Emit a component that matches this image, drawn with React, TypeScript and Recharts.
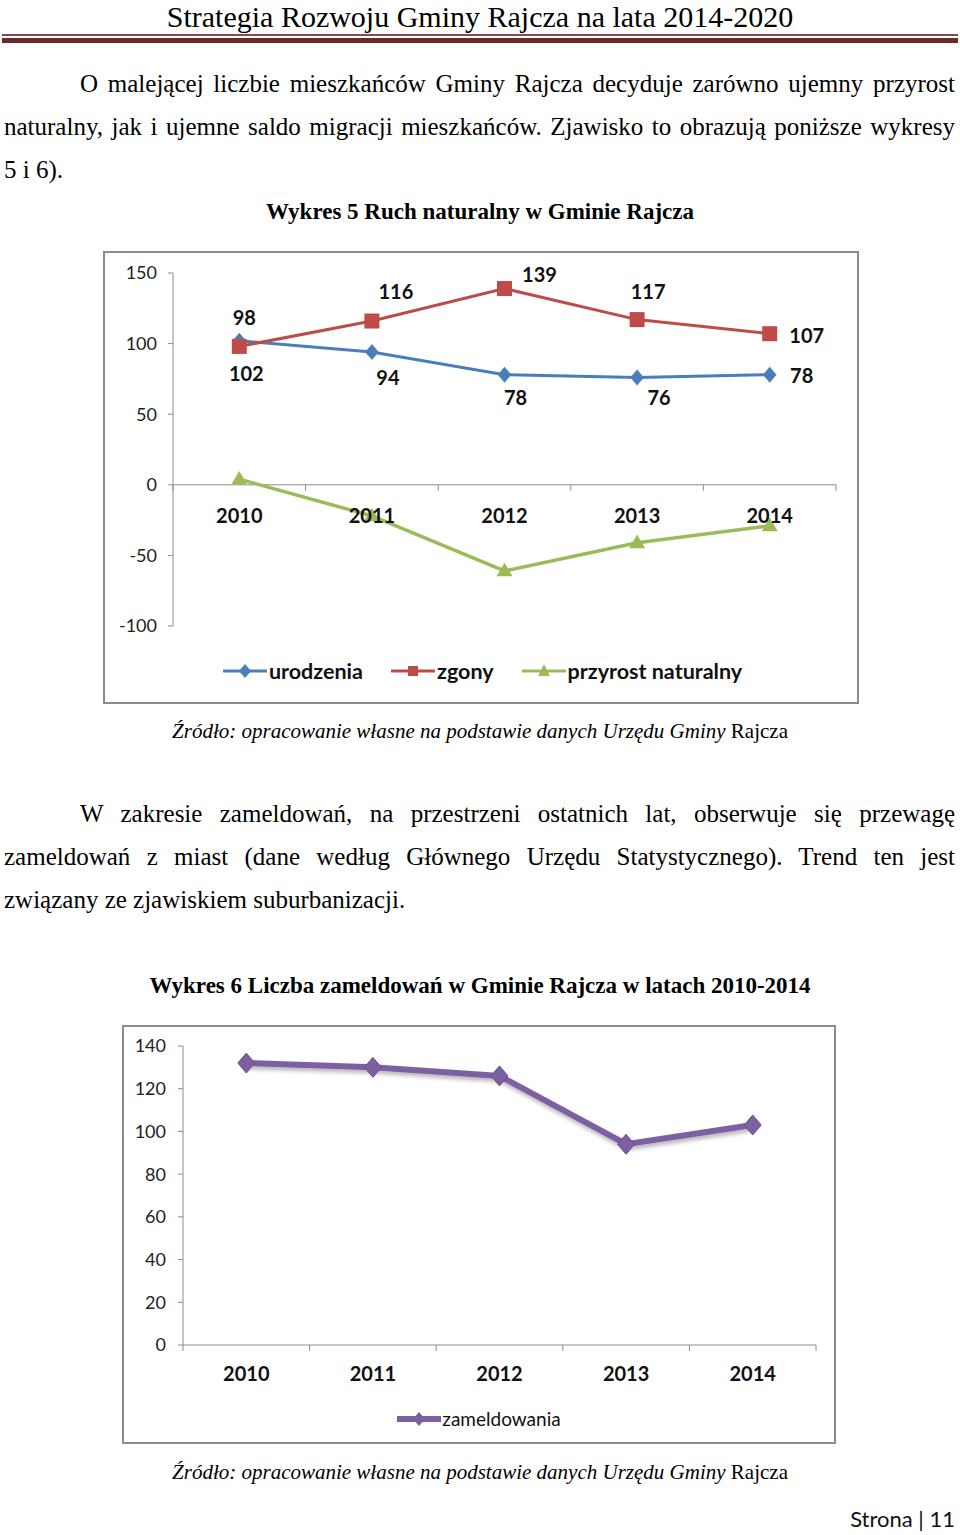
import React from "react";
import { LineChart, Line, XAxis, YAxis, ReferenceLine, LabelList } from "recharts";

const YEARS = ["2010", "2011", "2012", "2013", "2014"];
const URODZENIA = [102, 94, 78, 76, 78];
const ZGONY = [98, 116, 139, 117, 107];
const PRZYROST = [4, -22, -61, -41, -29];
const ZAMELDOWANIA = [132, 130, 126, 94, 103];
const RUCH_TICKS = [-100, -50, 0, 50, 100, 150];
const ZAMELD_TICKS = [0, 20, 40, 60, 80, 100, 120, 140];

const ruchData = YEARS.map((rok, i) => ({
  rok,
  urodzenia: URODZENIA[i],
  zgony: ZGONY[i],
  przyrost: PRZYROST[i],
}));
const zameldData = YEARS.map((rok, i) => ({ rok, zameldowania: ZAMELDOWANIA[i] }));

// label placement (Excel had them nudged by hand)
const ZGONY_LABEL_POS = [
  [5, -29], [24, -30], [35, -15], [11, -29], [37, 1],
];
const URODZENIA_LABEL_POS = [
  [7, 32], [16, 25], [11, 22], [22, 20], [32, 0],
];

const BLUE = "#4a7ebb";
const RED = "#be4b48";
const GREEN = "#9bbb59";
const PURPLE = "#7d60a2";
const AXIS = "#8c8c8c";
const SANS = "Lato, 'Open Sans', sans-serif";
const SERIF = "'Liberation Serif', 'Times New Roman', serif";

// chart 1 geometry
const R_W = 756;
const R_H = 453;
const R_TOP = 22;
const R_LEFT = 70;
const R_RIGHT = 23;
const R_PLOT_H = 353;
const R_PLOT_W = R_W - R_LEFT - R_RIGHT;
const R_BAND = R_PLOT_W / YEARS.length;
const R_ZERO_Y = R_TOP + (R_PLOT_H * 150) / 250;

// chart 2 geometry
const Z_W = 714;
const Z_H = 419;
const Z_TOP = 21;
const Z_LEFT = 61;
const Z_RIGHT = 20;
const Z_PLOT_H = 299;
const Z_PLOT_W = Z_W - Z_LEFT - Z_RIGHT;
const Z_BAND = Z_PLOT_W / YEARS.length;
const Z_BOTTOM_Y = Z_TOP + Z_PLOT_H;

const diamondDot = (color: string, r: number, stroke?: string) => (props: any) => {
  const { cx, cy, index } = props;
  if (cx == null || cy == null) return <g key={index} />;
  return (
    <path
      key={index}
      d={`M${cx},${cy - r}L${cx + r * 0.85},${cy}L${cx},${cy + r}L${cx - r * 0.85},${cy}Z`}
      fill={color}
      stroke={stroke || "none"}
      strokeWidth={1}
    />
  );
};

const squareDot = (color: string, s: number) => (props: any) => {
  const { cx, cy, index } = props;
  if (cx == null || cy == null) return <g key={index} />;
  return <rect key={index} x={cx - s / 2} y={cy - s / 2} width={s} height={s} fill={color} />;
};

const triangleDot = (color: string, s: number) => (props: any) => {
  const { cx, cy, index } = props;
  if (cx == null || cy == null) return <g key={index} />;
  const h = s * 0.85;
  return (
    <path
      key={index}
      d={`M${cx},${cy - h * 0.6}L${cx + s / 2},${cy + h * 0.4}L${cx - s / 2},${cy + h * 0.4}Z`}
      fill={color}
    />
  );
};

const makeLabel = (pos: number[][]) => (props: any) => {
  const { x, y, value, index } = props;
  const [dx, dy] = pos[index] || [0, 0];
  return (
    <text
      x={x + dx}
      y={y + dy}
      textAnchor="middle"
      dominantBaseline="central"
      fontFamily={SANS}
      fontWeight={700}
      fontSize={20}
      fill="#111"
    >
      {value}
    </text>
  );
};

// category ticks: Excel puts tick marks between categories
const makeXTick = (axisY: number, labelY: number, band: number, count: number) => (props: any) => {
  const { x, payload, index } = props;
  return (
    <g>
      <line x1={x - band / 2} x2={x - band / 2} y1={axisY} y2={axisY + 6} stroke={AXIS} />
      {index === count - 1 && (
        <line x1={x + band / 2} x2={x + band / 2} y1={axisY} y2={axisY + 6} stroke={AXIS} />
      )}
      <text
        x={x}
        y={labelY}
        textAnchor="middle"
        dominantBaseline="central"
        fontFamily={SANS}
        fontWeight={700}
        fontSize={20}
        fill="#111"
      >
        {payload.value}
      </text>
    </g>
  );
};

function LegendMarker({ color, kind, thick }: { color: string; kind: string; thick?: boolean }) {
  return (
    <svg width={44} height={20} style={{ display: "block" }}>
      <line x1={1} x2={43} y1={10} y2={10} stroke={color} strokeWidth={thick ? 6 : 3} strokeLinecap="round" />
      {kind === "diamond" && <path d="M22,3L28,10L22,17L16,10Z" fill={color} />}
      {kind === "square" && <rect x={17} y={5} width={10} height={10} fill={color} />}
      {kind === "triangle" && <path d="M22,3L28,15L16,15Z" fill={color} />}
    </svg>
  );
}

function RuchChart() {
  return (
    <div
      style={{
        position: "absolute",
        left: 103,
        top: 251,
        width: R_W,
        height: R_H,
        border: `2px solid ${AXIS}`,
        boxSizing: "border-box",
      }}
    >
      <div style={{ position: "absolute", left: -2, top: -2 }}>
        <LineChart
          width={R_W}
          height={R_H}
          data={ruchData}
          margin={{ top: R_TOP, right: R_RIGHT, bottom: R_H - R_TOP - R_PLOT_H - 1, left: 0 }}
        >
          <XAxis
            dataKey="rok"
            height={1}
            axisLine={false}
            tickLine={false}
            interval={0}
            padding={{ left: R_BAND / 2, right: R_BAND / 2 }}
            tick={makeXTick(R_ZERO_Y, R_ZERO_Y + 30, R_BAND, YEARS.length)}
          />
          <YAxis
            width={R_LEFT}
            domain={[-100, 150]}
            ticks={RUCH_TICKS}
            interval={0}
            stroke={AXIS}
            tickSize={5}
            tickMargin={11}
            tick={{ fontFamily: SANS, fontSize: 18, fill: "#222" }}
          />
          <ReferenceLine y={0} stroke={AXIS} strokeWidth={1} />
          <Line
            dataKey="urodzenia"
            stroke={BLUE}
            strokeWidth={3}
            dot={diamondDot(BLUE, 8)}
            isAnimationActive={false}
          >
            <LabelList dataKey="urodzenia" content={makeLabel(URODZENIA_LABEL_POS)} />
          </Line>
          <Line
            dataKey="zgony"
            stroke={RED}
            strokeWidth={3}
            dot={squareDot(RED, 15)}
            isAnimationActive={false}
          >
            <LabelList dataKey="zgony" content={makeLabel(ZGONY_LABEL_POS)} />
          </Line>
          <Line
            dataKey="przyrost"
            stroke={GREEN}
            strokeWidth={3.5}
            dot={triangleDot(GREEN, 16)}
            isAnimationActive={false}
          />
        </LineChart>
      </div>
      <div
        style={{
          position: "absolute",
          left: 3,
          right: 0,
          top: 405,
          display: "flex",
          justifyContent: "center",
          alignItems: "center",
          gap: 28,
          fontFamily: SANS,
          fontWeight: 700,
          fontSize: 21.5,
          color: "#111",
        }}
      >
        <div style={{ display: "flex", alignItems: "center", gap: 2 }}>
          <LegendMarker color={BLUE} kind="diamond" />
          <span>urodzenia</span>
        </div>
        <div style={{ display: "flex", alignItems: "center", gap: 2 }}>
          <LegendMarker color={RED} kind="square" />
          <span>zgony</span>
        </div>
        <div style={{ display: "flex", alignItems: "center", gap: 2 }}>
          <LegendMarker color={GREEN} kind="triangle" />
          <span>przyrost naturalny</span>
        </div>
      </div>
    </div>
  );
}

function ZameldChart() {
  return (
    <div
      className="zameld"
      style={{
        position: "absolute",
        left: 122,
        top: 1025,
        width: Z_W,
        height: Z_H,
        border: `2px solid ${AXIS}`,
        boxSizing: "border-box",
      }}
    >
      <style>{`.zameld .recharts-line { filter: url(#zShadow); }`}</style>
      <svg width={0} height={0} style={{ position: "absolute" }}>
        <defs>
          <filter id="zShadow" x="-10%" y="-30%" width="120%" height="180%">
            <feDropShadow dx={1} dy={3} stdDeviation={2} floodColor="#000" floodOpacity={0.3} />
          </filter>
        </defs>
      </svg>
      <div style={{ position: "absolute", left: -2, top: -2 }}>
        <LineChart
          width={Z_W}
          height={Z_H}
          data={zameldData}
          margin={{ top: Z_TOP, right: Z_RIGHT, bottom: Z_H - Z_TOP - Z_PLOT_H - 1, left: 0 }}
        >
          <XAxis
            dataKey="rok"
            height={1}
            stroke={AXIS}
            tickLine={false}
            interval={0}
            padding={{ left: Z_BAND / 2, right: Z_BAND / 2 }}
            tick={makeXTick(Z_BOTTOM_Y, Z_BOTTOM_Y + 28, Z_BAND, YEARS.length)}
          />
          <YAxis
            width={Z_LEFT}
            domain={[0, 140]}
            ticks={ZAMELD_TICKS}
            interval={0}
            stroke={AXIS}
            tickSize={5}
            tickMargin={12}
            tick={{ fontFamily: SANS, fontSize: 18, fill: "#222" }}
          />
          <Line
            dataKey="zameldowania"
            stroke={PURPLE}
            strokeWidth={6}
            dot={diamondDot(PURPLE, 10, "#6a4f8c")}
            isAnimationActive={false}
          />
        </LineChart>
      </div>
      <div
        style={{
          position: "absolute",
          left: 0,
          right: 0,
          top: 380,
          display: "flex",
          justifyContent: "center",
          alignItems: "center",
          fontFamily: SANS,
          fontSize: 19,
          color: "#111",
        }}
      >
        <LegendMarker color={PURPLE} kind="diamond" thick />
        <span style={{ marginLeft: 1 }}>zameldowania</span>
      </div>
    </div>
  );
}

const lineStyle = (top: number, left: number, justify: boolean): React.CSSProperties => ({
  position: "absolute",
  top,
  left,
  width: 955 - left,
  lineHeight: "43px",
  fontSize: 25,
  fontFamily: SERIF,
  color: "#000",
  whiteSpace: "nowrap",
  textAlign: justify ? "justify" : "left",
  textAlignLast: justify ? "justify" : "left",
});

function Caption({ top }: { top: number }) {
  return (
    <div
      style={{
        position: "absolute",
        top,
        left: 0,
        width: 960,
        textAlign: "center",
        fontFamily: SERIF,
        fontSize: 21,
        lineHeight: "30px",
      }}
    >
      <i>Źródło: opracowanie własne na podstawie danych Urzędu Gminy</i> Rajcza
    </div>
  );
}

const titleStyle = (top: number): React.CSSProperties => ({
  position: "absolute",
  top,
  left: 0,
  width: 960,
  textAlign: "center",
  fontFamily: SERIF,
  fontWeight: 700,
  fontSize: 23,
  lineHeight: "30px",
});

export default function App() {
  return (
    <div
      style={{
        position: "absolute",
        left: 0,
        top: 0,
        width: 960,
        height: 1535,
        background: "#fff",
        overflow: "hidden",
      }}
    >
      <div
        style={{
          position: "absolute",
          top: 0,
          left: 0,
          width: 960,
          textAlign: "center",
          fontFamily: SERIF,
          fontSize: 30,
          lineHeight: "33.5px",
        }}
      >
        Strategia Rozwoju Gminy Rajcza na lata 2014-2020
      </div>
      <div style={{ position: "absolute", left: 2, width: 956, top: 34, height: 2, background: "#8a4b48" }} />
      <div style={{ position: "absolute", left: 2, width: 956, top: 38, height: 5, background: "#6b2a2a" }} />

      <div style={lineStyle(62, 80, true)}>
        O malejącej liczbie mieszkańców Gminy Rajcza decyduje zarówno ujemny przyrost
      </div>
      <div style={lineStyle(105, 4, true)}>
        naturalny, jak i ujemne saldo migracji mieszkańców. Zjawisko to obrazują poniższe wykresy
      </div>
      <div style={lineStyle(148, 4, false)}>5 i 6).</div>

      <div style={titleStyle(197)}>Wykres 5 Ruch naturalny w Gminie Rajcza</div>

      <RuchChart />
      <Caption top={716} />

      <div style={lineStyle(792, 80, true)}>
        W zakresie zameldowań, na przestrzeni ostatnich lat, obserwuje się przewagę
      </div>
      <div style={lineStyle(835, 4, true)}>
        zameldowań z miast (dane według Głównego Urzędu Statystycznego). Trend ten jest
      </div>
      <div style={lineStyle(878, 4, false)}>związany ze zjawiskiem suburbanizacji.</div>

      <div style={titleStyle(971)}>Wykres 6 Liczba zameldowań w Gminie Rajcza w latach 2010-2014</div>

      <ZameldChart />
      <Caption top={1457} />

      <div
        style={{
          position: "absolute",
          top: 1505,
          right: 5,
          fontFamily: SANS,
          fontSize: 22,
          lineHeight: "28px",
          color: "#111",
        }}
      >
        Strona | 11
      </div>
    </div>
  );
}
